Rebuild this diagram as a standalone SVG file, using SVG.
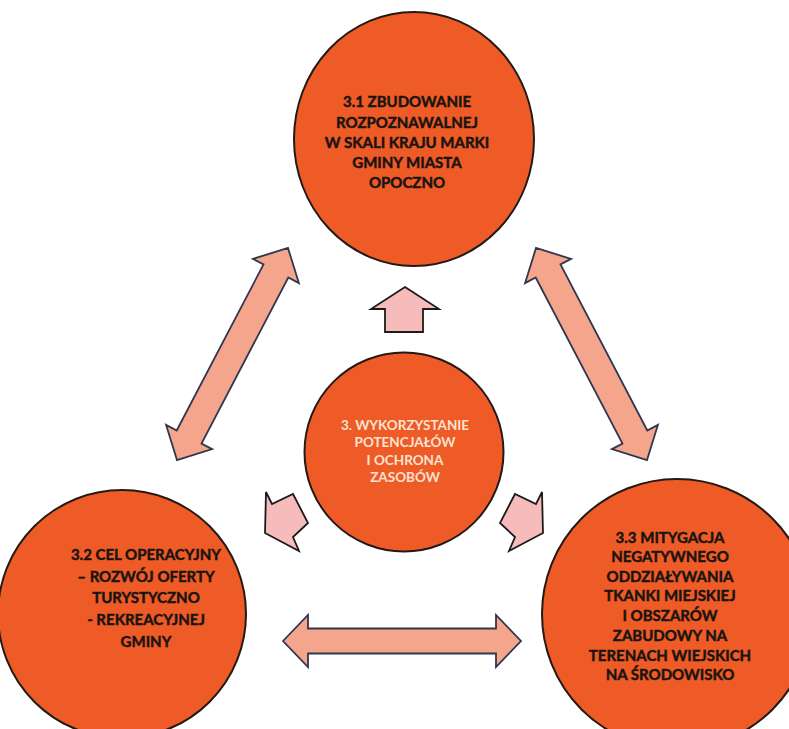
<svg xmlns="http://www.w3.org/2000/svg" width="789" height="729" viewBox="0 0 789 729">
<style>
.node{fill:#EF5B26;stroke:#231a16;stroke-width:2}
.dbl{fill:#F5A58C;stroke:#2F3650;stroke-width:1.8;stroke-linejoin:miter}
.sml{fill:#F6BCBC;stroke:#1e1a1a;stroke-width:1.8;stroke-linejoin:miter}
.t{font-family:Lato,"Liberation Sans",sans-serif;font-weight:700;font-size:15px;fill:#1a1410;stroke:#1a1410;stroke-width:0.45;text-anchor:middle}
.tc{font-family:Lato,"Liberation Sans",sans-serif;font-weight:700;font-size:13.5px;fill:#FBE3D2;text-anchor:middle}
</style>
<rect width="789" height="729" fill="#ffffff"/>
<g id="connectors">
<polygon class="dbl" points="288,248 298.9,283.1 288.3,277.5 201.5,443.5 212.1,449.1 177,460 166.1,424.9 176.7,430.5 263.5,264.5 252.9,258.9"/>
<polygon class="dbl" points="536,248 525.1,283.1 535.7,277.5 622.5,443.5 611.9,449.1 647,460 657.9,424.9 647.3,430.5 560.5,264.5 571.1,258.9"/>
<polygon class="dbl" points="283,641 308,615 308,628.5 496,628.5 496,615 521,641 496,667 496,653.5 308,653.5 308,667"/>
<polygon class="sml" points="405,287 439,309 423,309 423,332 385,332 385,309 371,309"/>
<polygon class="sml" points="266,492 272,504 293,494 308,523 293,537 299,551 265,533"/>
<polygon class="sml" points="542,492 536,504 515,494 500,523 515,537 509,551 543,533"/>
</g>
<g id="node-top">
<ellipse class="node" cx="414" cy="139" rx="120" ry="127"/>
<text class="t" x="407" y="107">3.1 ZBUDOWANIE</text>
<text class="t" x="407" y="128">ROZPOZNAWALNEJ</text>
<text class="t" x="407" y="148">W SKALI KRAJU MARKI</text>
<text class="t" x="407" y="168">GMINY MIASTA</text>
<text class="t" x="407" y="188">OPOCZNO</text>
</g>
<g id="node-center">
<circle class="node" cx="404" cy="452" r="99.5"/>
<text class="tc" x="405" y="430">3. WYKORZYSTANIE</text>
<text class="tc" x="405" y="447">POTENCJAŁÓW</text>
<text class="tc" x="405" y="465">I OCHRONA</text>
<text class="tc" x="405" y="482">ZASOBÓW</text>
</g>
<g id="node-left">
<circle class="node" cx="122" cy="614" r="124"/>
<text class="t" x="146" y="560">3.2 CEL OPERACYJNY</text>
<text class="t" x="146" y="582">– ROZWÓJ OFERTY</text>
<text class="t" x="146" y="603">TURYSTYCZNO</text>
<text class="t" x="146" y="625">- REKREACYJNEJ</text>
<text class="t" x="146" y="647">GMINY</text>
</g>
<g id="node-right">
<circle class="node" cx="677" cy="614" r="135"/>
<text class="t" x="670" y="543">3.3 MITYGACJA</text>
<text class="t" x="670" y="562">NEGATYWNEGO</text>
<text class="t" x="670" y="582">ODDZIAŁYWANIA</text>
<text class="t" x="670" y="601">TKANKI MIEJSKIEJ</text>
<text class="t" x="670" y="621">I OBSZARÓW</text>
<text class="t" x="670" y="641">ZABUDOWY NA</text>
<text class="t" x="670" y="661">TERENACH WIEJSKICH</text>
<text class="t" x="670" y="680">NA ŚRODOWISKO</text>
</g>
</svg>
